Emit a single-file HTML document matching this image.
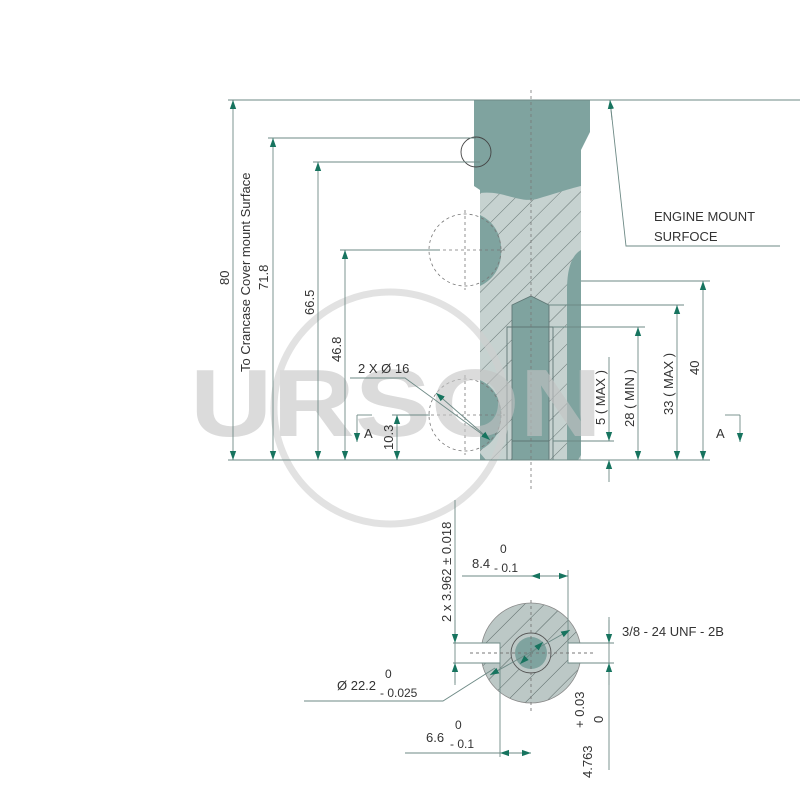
<!DOCTYPE html>
<html><head><style>html,body{margin:0;padding:0;background:#fff}svg{display:block}</style></head><body>
<svg width="800" height="800" viewBox="0 0 800 800" xmlns="http://www.w3.org/2000/svg" font-family="Liberation Sans, sans-serif">
<defs>
<pattern id="h" patternUnits="userSpaceOnUse" width="14" height="14" patternTransform="rotate(45)">
<rect width="14" height="14" fill="#c6d2d0"/><line x1="0" y1="0" x2="0" y2="14" stroke="#4e5e5c" stroke-width="0.8"/>
</pattern>
<pattern id="h2" patternUnits="userSpaceOnUse" width="14" height="14" patternTransform="rotate(45)">
<rect width="14" height="14" fill="#bcc8c6"/><line x1="0" y1="0" x2="0" y2="14" stroke="#3e4e4c" stroke-width="0.8"/>
</pattern>
<marker id="a" viewBox="0 0 10 10" refX="10" refY="5" markerWidth="9" markerHeight="9" orient="auto-start-reverse" markerUnits="userSpaceOnUse"><path d="M0,1.5 L10,5 L0,8.5z" fill="#17745f"/></marker>
<clipPath id="cc"><circle cx="531" cy="653" r="50"/></clipPath>
</defs>
<g stroke="#5f7775" stroke-width="0.9" fill="none">
<path d="M474,100 L590,100 L590,132 L581,150 L581,460 L578,460 L480,460 L480,190 L474,186 Z" fill="#7fa39f" stroke="none"/>
<path d="M480,193 C505,190 520,205 540,198 C560,192 572,188 581,186 L581,460 L486,460 L480,453 Z" fill="url(#h)" stroke="none"/>
<path d="M567,460 L567,290 C567,268 572,255 581,250 L581,455 L578,460 Z" fill="#7fa39f" stroke="none"/>
<path d="M480,215 A36,36 0 0 1 501,250 A36,36 0 0 1 480,286" fill="#7fa39f" stroke="none"/>
<path d="M480,380 A36,36 0 0 1 501,415 A36,36 0 0 1 480,450 Z" fill="#7fa39f" stroke="none"/>
<path d="M512,305 L531,296 L549,305 L549,460 L512,460 Z" fill="#7fa39f" stroke="#5f7775"/>
<path d="M507,460 L507,327 L553,327 L553,460" stroke="#5f7775"/>
<line x1="512" y1="441" x2="549" y2="441"/>
<circle cx="476" cy="152" r="15" stroke="#444"/>
</g>
<g stroke="#777" stroke-width="0.8" fill="none" stroke-dasharray="3,3">
<circle cx="465" cy="250" r="36"/><circle cx="465" cy="415" r="36"/>
<line x1="531" y1="90" x2="531" y2="490"/>
<line x1="465" y1="210" x2="465" y2="290"/><line x1="425" y1="250" x2="505" y2="250"/>
<line x1="465" y1="375" x2="465" y2="455"/><line x1="425" y1="415" x2="505" y2="415"/>
</g>
<g opacity="0.6">
<circle cx="390" cy="408" r="116" fill="none" stroke="#cfcfcf" stroke-width="7"/>
<text x="190" y="436" font-size="96" font-weight="bold" fill="#c4c4c4" textLength="412" lengthAdjust="spacingAndGlyphs">URSON</text>
</g>
<g stroke="#6e8a86" stroke-width="0.9" fill="none">
<line x1="228" y1="100" x2="800" y2="100"/>
<line x1="268" y1="138" x2="476" y2="138"/>
<line x1="313" y1="162" x2="480" y2="162"/>
<line x1="340" y1="250" x2="440" y2="250"/>
<line x1="228" y1="460" x2="710" y2="460"/>
<line x1="392" y1="415" x2="430" y2="415"/>
<line x1="581" y1="281" x2="710" y2="281"/>
<line x1="549" y1="305" x2="684" y2="305"/>
<line x1="553" y1="327" x2="645" y2="327"/>
<line x1="553" y1="441" x2="614" y2="441"/>
<path d="M610,100 L626,246 L780,246"/>
<path d="M350,378 L405,378 L490,440"/>
<path d="M357,415 L372,415"/><path d="M725,415 L740,415"/>
</g>
<g stroke="#6e8a86" stroke-width="0.9" fill="none" marker-start="url(#a)" marker-end="url(#a)">
<line x1="233" y1="100" x2="233" y2="460"/>
<line x1="273" y1="138" x2="273" y2="460"/>
<line x1="318" y1="162" x2="318" y2="460"/>
<line x1="345" y1="250" x2="345" y2="460"/>
<line x1="397" y1="415" x2="397" y2="460"/>
<line x1="703" y1="281" x2="703" y2="460"/>
<line x1="677" y1="305" x2="677" y2="460"/>
<line x1="638" y1="327" x2="638" y2="460"/>
<line x1="436" y1="393" x2="490" y2="440"/>
</g>
<g stroke="#6e8a86" stroke-width="0.9" fill="none">
<line x1="609" y1="357" x2="609" y2="441" marker-end="url(#a)"/>
<line x1="609" y1="482" x2="609" y2="460" marker-end="url(#a)"/>
<line x1="357" y1="415" x2="357" y2="442" marker-end="url(#a)"/>
<line x1="740" y1="415" x2="740" y2="442" marker-end="url(#a)"/>
<line x1="612" y1="120" x2="610" y2="100" marker-end="url(#a)"/>
</g>
<g fill="#333" font-size="13">
<text transform="translate(229,285) rotate(-90)">80</text>
<text transform="translate(250,372) rotate(-90)">To Crancase Cover mount Surface</text>
<text transform="translate(268,290) rotate(-90)">71.8</text>
<text transform="translate(314,315) rotate(-90)">66.5</text>
<text transform="translate(341,362) rotate(-90)">46.8</text>
<text transform="translate(393,450) rotate(-90)">10.3</text>
<text x="358" y="373">2 X Ø 16</text>
<text x="364" y="438">A</text><text x="716" y="438">A</text>
<text x="654" y="221">ENGINE MOUNT</text>
<text x="654" y="241">SURFOCE</text>
<text transform="translate(605,425) rotate(-90)">5 ( MAX )</text>
<text transform="translate(634,427) rotate(-90)">28 ( MIN )</text>
<text transform="translate(673,415) rotate(-90)">33 ( MAX )</text>
<text transform="translate(699,375) rotate(-90)">40</text>
</g>
<g clip-path="url(#cc)">
<rect x="470" y="595" width="125" height="115" fill="url(#h2)"/>
</g>
<circle cx="531" cy="653" r="50" fill="none" stroke="#888" stroke-width="0.8"/>
<rect x="450" y="643" width="50" height="20" fill="#fff"/>
<rect x="568" y="643" width="45" height="20" fill="#fff"/>
<g stroke="#6e8a86" stroke-width="0.9" fill="none">
<path d="M453,643 L500,643 L500,663 L453,663"/>
<path d="M614,643 L568,643 L568,663 L614,663"/>
<circle cx="531" cy="653" r="20" fill="#bcc8c6" stroke="#555"/>
<circle cx="531" cy="653" r="16" fill="#7fa39f" stroke="none"/>
<line x1="531" y1="600" x2="531" y2="712" stroke-dasharray="3,3" stroke="#777"/>
<line x1="470" y1="653" x2="593" y2="653" stroke-dasharray="3,3" stroke="#777"/>
<line x1="462" y1="576" x2="568" y2="576"/>
<line x1="568" y1="570" x2="568" y2="643"/>
<line x1="455" y1="500" x2="455" y2="683"/>
<line x1="609" y1="617" x2="609" y2="770"/>
<line x1="405" y1="753" x2="531" y2="753"/>
<line x1="500" y1="663" x2="500" y2="757"/>
<path d="M304,701 L443,701 L495,668"/>
</g>
<g stroke="#6e8a86" stroke-width="0.9" fill="none">
<line x1="531" y1="576" x2="568" y2="576" marker-start="url(#a)" marker-end="url(#a)"/>
<line x1="500" y1="753" x2="531" y2="753" marker-start="url(#a)" marker-end="url(#a)"/>
<line x1="455" y1="620" x2="455" y2="643" marker-end="url(#a)"/>
<line x1="455" y1="685" x2="455" y2="663" marker-end="url(#a)"/>
<line x1="609" y1="620" x2="609" y2="643" marker-end="url(#a)"/>
<line x1="609" y1="685" x2="609" y2="663" marker-end="url(#a)"/>
<line x1="490" y1="675" x2="570" y2="630" marker-start="url(#a)" marker-end="url(#a)"/>
<line x1="520" y1="664" x2="543" y2="642" marker-start="url(#a)" marker-end="url(#a)"/>
</g>
<g fill="#333" font-size="13">
<text x="472" y="568">8.4</text><text x="500" y="553" font-size="12">0</text><text x="494" y="572" font-size="12">- 0.1</text>
<text transform="translate(451,622) rotate(-90)">2 x 3.962 ± 0.018</text>
<text x="622" y="636">3/8 - 24 UNF - 2B</text>
<text x="337" y="690">Ø 22.2</text><text x="385" y="678" font-size="12">0</text><text x="380" y="697" font-size="12">- 0.025</text>
<text x="426" y="742">6.6</text><text x="455" y="729" font-size="12">0</text><text x="450" y="748" font-size="12">- 0.1</text>
<text transform="translate(592,778) rotate(-90)">4.763</text>
<text transform="translate(584,728) rotate(-90)">+ 0.03</text>
<text transform="translate(603,723) rotate(-90)">0</text>
</g>
</svg>
</body></html>
